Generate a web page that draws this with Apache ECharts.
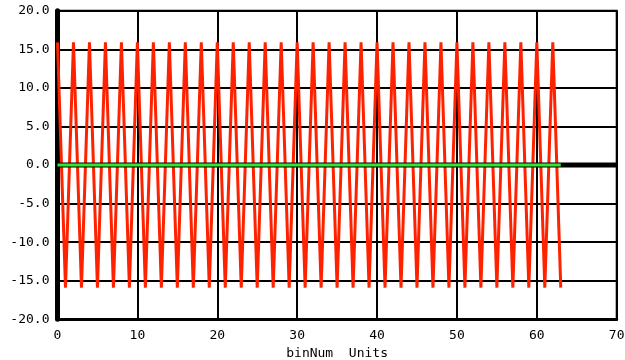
<!DOCTYPE html>
<html>
<head>
<meta charset="utf-8">
<script src="https://cdn.jsdelivr.net/npm/echarts@6/dist/echarts.min.js"></script>
<style>
  html, body { margin: 0; padding: 0; background: #fff; }
  #chart { width: 625px; height: 360px; }
</style>
</head>
<body>
<div id="chart"></div>
<script>
// signal per bin (0..63)
const signalY = [
  15.9, -15.9, 15.9, -15.9, 15.9, -15.9, 15.9, -15.9,
  15.9, -15.9, 15.9, -15.9, 15.9, -15.9, 15.9, -15.9,
  15.9, -15.9, 15.9, -15.9, 15.9, -15.9, 15.9, -15.9,
  15.9, -15.9, 15.9, -15.9, 15.9, -15.9, 15.9, -15.9,
  15.9, -15.9, 15.9, -15.9, 15.9, -15.9, 15.9, -15.9,
  15.9, -15.9, 15.9, -15.9, 15.9, -15.9, 15.9, -15.9,
  15.9, -15.9, 15.9, -15.9, 15.9, -15.9, 15.9, -15.9,
  15.9, -15.9, 15.9, -15.9, 15.9, -15.9, 15.9, -15.9
]
// green reference line and black zero line
const greenLine = [[0, 0], [63, 0]]
const zeroLine = [[0, 0], [70, 0]]

const xMin = 0, xMax = 70, xStep = 10
const yMin = -20, yMax = 20, yStep = 5

const font = 'DejaVu Sans Mono'

const chart = echarts.init(document.getElementById('chart'))

chart.setOption({
  animation: false,
  backgroundColor: '#fff',
  grid: {
    left: 57.5,
    right: 8.3,
    top: 10.7,
    bottom: 40.7,
    outerBoundsMode: 'none',
    show: true,
    borderColor: '#000',
    borderWidth: 2
  },
  xAxis: {
    type: 'value',
    min: xMin,
    max: xMax,
    interval: xStep,
    name: 'binNum  Units',
    nameLocation: 'middle',
    nameGap: 27,
    nameTextStyle: { color: '#000', fontFamily: font, fontSize: 13 },
    axisLine: { onZero: false, lineStyle: { color: '#000', width: 3 } },
    axisTick: { show: false },
    axisLabel: { color: '#000', fontFamily: font, fontSize: 13, margin: 10 },
    splitLine: { show: true, lineStyle: { color: '#000', width: 2 } }
  },
  yAxis: {
    type: 'value',
    min: yMin,
    max: yMax,
    interval: yStep,
    axisLine: { show: true, onZero: false, lineStyle: { color: '#000', width: 5 } },
    axisTick: { show: false },
    axisLabel: {
      color: '#000',
      fontFamily: font,
      fontSize: 13,
      margin: 8,
      formatter: v => v.toFixed(1)
    },
    splitLine: { show: true, lineStyle: { color: '#000', width: 2 } }
  },
  series: [
    {
      type: 'line',
      data: signalY.map((v, i) => [i, v]),
      showSymbol: false,
      silent: true,
      lineStyle: { color: '#ff2200', width: 3 }
    },
    {
      type: 'line',
      data: zeroLine,
      showSymbol: false,
      silent: true,
      lineStyle: { color: '#000', width: 5 }
    },
    {
      type: 'line',
      data: greenLine,
      showSymbol: false,
      silent: true,
      lineStyle: { color: '#33e633', width: 3 }
    }
  ]
})
</script>
</body>
</html>
